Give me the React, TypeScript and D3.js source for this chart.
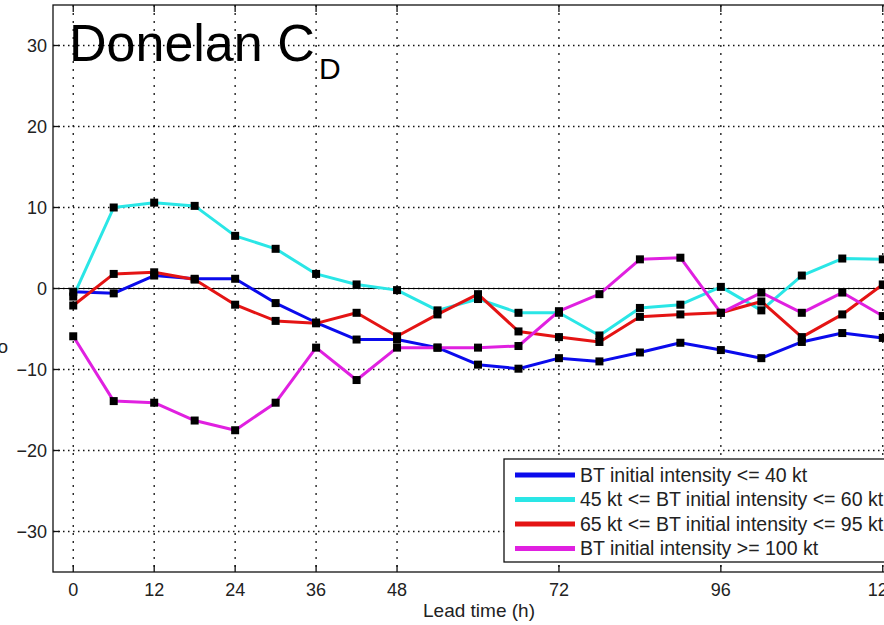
import React from "react";
import * as d3 from "d3";

// Lead times (h)
const leadTimes = [0, 6, 12, 18, 24, 30, 36, 42, 48, 54, 60, 66, 72, 78, 84, 90, 96, 102, 108, 114, 120];

// Cd bias per initial-intensity group
const weak = [-0.4, -0.6, 1.6, 1.2, 1.2, -1.8, -4.2, -6.3, -6.3, -7.3, -9.4, -9.9, -8.6, -9.0, -7.9, -6.7, -7.6, -8.6, -6.6, -5.5, -6.1];
const moderate = [-1.0, 10.0, 10.6, 10.2, 6.5, 4.9, 1.8, 0.5, -0.2, -2.7, -1.3, -3.0, -3.0, -5.8, -2.4, -2.0, 0.2, -2.7, 1.6, 3.7, 3.6];
const strong = [-2.1, 1.8, 2.0, 1.1, -2.0, -4.0, -4.3, -3.0, -5.9, -3.2, -0.7, -5.3, -6.0, -6.6, -3.5, -3.2, -3.0, -1.6, -6.0, -3.2, 0.5];
const intense = [-5.9, -13.9, -14.1, -16.3, -17.5, -14.1, -7.3, -11.3, -7.3, -7.3, -7.3, -7.1, -2.8, -0.7, 3.6, 3.8, -3.0, -0.5, -3.0, -0.5, -3.4];

const seriesNames = [
  "BT initial intensity <= 40 kt",
  "45 kt <= BT initial intensity <= 60 kt",
  "65 kt <= BT initial intensity <= 95 kt",
  "BT initial intensity >= 100 kt",
];
const seriesColors = ["#0b0bec", "#2ae6e6", "#e41414", "#e020e0"];

const xTicks = [0, 12, 24, 36, 48, 72, 96, 120];
const yTicks = [-30, -20, -10, 0, 10, 20, 30];

const W = 884;
const H = 625;

export default function App() {
  const x = d3.scaleLinear().domain([-3, 123]).range([53, 903]);
  const y = d3.scaleLinear().domain([-35, 35]).range([572, 5]);
  const left = x(-3);
  const right = x(123);
  const top = y(35);
  const bottom = y(-35);

  const allSeries = [weak, moderate, strong, intense];
  const line = d3
    .line<number>()
    .x((_, i) => x(leadTimes[i]))
    .y((d) => y(d));

  const font = "Arial, 'Liberation Sans', Helvetica, sans-serif";
  const tickColor = "#222";

  return (
    <div style={{ position: "absolute", left: 0, top: 0, width: W, height: H, background: "#fff" }}>
      <svg width={W} height={H} style={{ display: "block" }} fontFamily={font}>
        <rect x={0} y={0} width={W} height={H} fill="#fff" />

        {/* dotted grid */}
        {yTicks.map((t) => (
          <line key={"gy" + t} x1={left} x2={right} y1={y(t)} y2={y(t)} stroke="#111" strokeWidth={1.3} strokeDasharray="1.5,3.5" />
        ))}
        {xTicks.map((t) => (
          <line key={"gx" + t} x1={x(t)} x2={x(t)} y1={top} y2={bottom} stroke="#111" strokeWidth={1.3} strokeDasharray="2,6" />
        ))}

        {/* zero reference */}
        <line x1={left} x2={right} y1={y(0)} y2={y(0)} stroke="#000" strokeWidth={1.2} />

        {/* series lines */}
        {allSeries.map((s, k) => (
          <path key={"l" + k} d={line(s) || ""} fill="none" stroke={seriesColors[k]} strokeWidth={3} strokeLinejoin="round" />
        ))}
        {/* markers */}
        {allSeries.map((s, k) =>
          s.map((v, i) => (
            <rect key={`m${k}-${i}`} x={x(leadTimes[i]) - 4} y={y(v) - 4} width={8} height={8} fill="#000" />
          ))
        )}

        {/* axes frame */}
        <rect x={left} y={top} width={right - left} height={bottom - top} fill="none" stroke="#111" strokeWidth={1.3} />
        {xTicks.map((t) => (
          <g key={"xt" + t}>
            <line x1={x(t)} x2={x(t)} y1={bottom} y2={bottom - 7} stroke="#111" strokeWidth={1.3} />
            <line x1={x(t)} x2={x(t)} y1={top} y2={top + 7} stroke="#111" strokeWidth={1.3} />
          </g>
        ))}
        {yTicks.map((t) => (
          <line key={"yt" + t} x1={left} x2={left + 7} y1={y(t)} y2={y(t)} stroke="#111" strokeWidth={1.3} />
        ))}

        {/* tick labels */}
        {xTicks.map((t) => (
          <text key={"xl" + t} x={x(t)} y={596} fontSize={18} textAnchor="middle" fill={tickColor}>
            {t}
          </text>
        ))}
        {yTicks.map((t) => (
          <text key={"yl" + t} x={47} y={y(t) + 6.5} fontSize={18} textAnchor="end" fill={tickColor}>
            {t < 0 ? "\u2212" + Math.abs(t) : t}
          </text>
        ))}

        {/* axis labels */}
        <text x={479} y={617} fontSize={19} textAnchor="middle" fill={tickColor}>
          Lead time (h)
        </text>
        <text x={8} y={353} fontSize={19} textAnchor="end" fill={tickColor}>
          o
        </text>

        {/* panel title */}
        <text x={69} y={61} fontSize={52} fill="#000">
          Donelan C
        </text>
        <text x={319} y={79} fontSize={30} fill="#000">
          D
        </text>

        {/* legend */}
        <rect x={504} y={459} width={400} height={103} fill="#fff" stroke="#111" strokeWidth={1.3} />
        {seriesNames.map((name, k) => {
          const ry = 475 + k * 24.5;
          return (
            <g key={"lg" + k}>
              <line x1={515} x2={575} y1={ry} y2={ry} stroke={seriesColors[k]} strokeWidth={5} />
              <text x={580} y={ry + 6.5} fontSize={19.5} fill={tickColor}>
                {name}
              </text>
            </g>
          );
        })}
      </svg>
    </div>
  );
}
